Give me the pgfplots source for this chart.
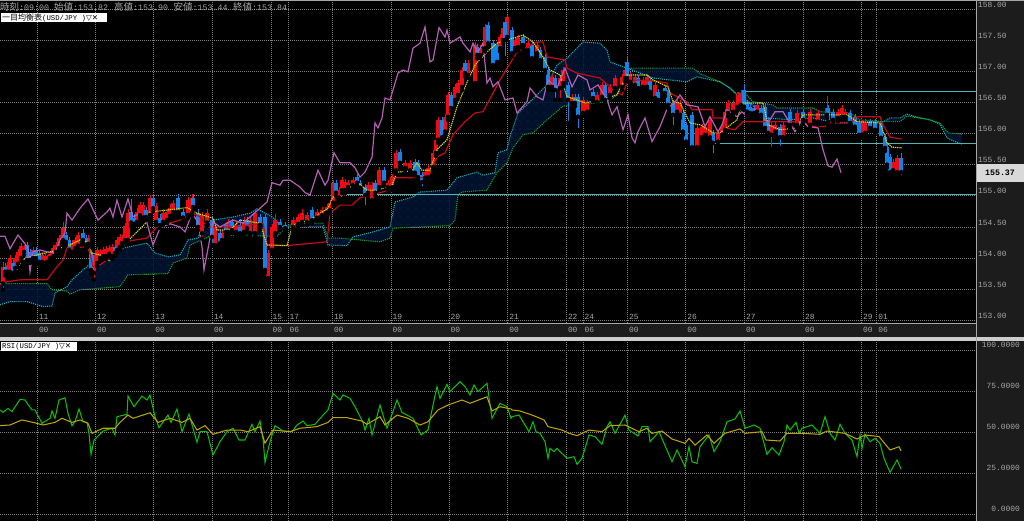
\documentclass[border=0pt]{standalone}
\usepackage{fontspec}
\usepackage{pgfplots}
\usepackage{pgfplotstable}
\pgfplotsset{compat=1.18}
\usetikzlibrary{patterns.meta}
\setmainfont{Liberation Mono}
\newfontfamily\jp{Noto Sans CJK JP}
\newfontfamily\sym{DejaVu Sans}

\definecolor{tick}{RGB}{165,165,165}
\definecolor{panel}{RGB}{28,28,28}
\definecolor{cloud}{RGB}{2,20,52}
\definecolor{dots}{RGB}{30,120,140}
\definecolor{spana}{RGB}{30,170,180}
\definecolor{spanb}{RGB}{20,160,40}
\definecolor{kijun}{RGB}{200,10,20}
\definecolor{tenkan}{RGB}{215,215,20}
\definecolor{chikou}{RGB}{180,95,180}
\definecolor{level}{RGB}{80,180,180}
\definecolor{upc}{RGB}{240,10,20}
\definecolor{dnc}{RGB}{20,130,235}
\definecolor{rsi}{RGB}{10,190,10}
\definecolor{rsima}{RGB}{185,165,10}

% candles: x, body bottom, body top, wick low, wick high
\pgfplotstableread{
x bot top lo hi
3 153.59 153.86 153.49 153.94
7 153.78 153.89 153.72 153.93
10 153.78 154.00 153.73 154.05
15 153.84 154.00 153.78 154.05
18 153.91 154.10 153.85 154.15
21 154.00 154.20 153.95 154.24
24 154.10 154.16 154.05 154.21
33 154.00 154.13 153.95 154.18
42 153.94 154.05 153.89 154.10
45 153.92 154.03 153.87 154.08
47 153.94 154.00 153.89 154.05
50 154.00 154.07 153.95 154.11
53 154.03 154.16 153.98 154.21
56 154.10 154.21 154.05 154.26
59 154.16 154.32 154.11 154.37
62 154.26 154.37 154.21 154.42
63 154.29 154.48 154.24 154.58
72 154.10 154.24 154.05 154.29
75 154.16 154.29 154.11 154.34
78 154.20 154.37 154.15 154.42
88 154.23 154.32 154.18 154.37
94 153.76 154.00 153.65 154.05
97 153.92 154.13 153.87 154.18
100 154.00 154.10 153.95 154.15
103 154.03 154.13 153.98 154.18
106 154.03 154.15 153.98 154.20
109 154.07 154.16 154.02 154.21
112 154.03 154.18 153.98 154.23
117 154.13 154.29 154.08 154.34
120 154.18 154.34 154.13 154.39
122 154.24 154.32 154.19 154.37
125 154.29 154.52 154.24 154.57
128 154.29 154.73 154.24 154.78
137 154.58 154.74 154.53 154.80
140 154.69 154.85 154.64 154.90
143 154.65 154.85 154.60 154.90
150 154.69 154.96 154.64 155.02
156 154.58 154.84 154.53 154.89
163 154.58 154.73 154.53 154.78
167 154.61 154.74 154.56 154.79
170 154.68 154.81 154.63 154.86
173 154.74 154.89 154.69 154.94
188 154.69 154.93 154.64 154.98
192 154.72 154.96 154.67 155.03
202 154.40 154.69 154.31 154.74
207 154.57 154.73 154.52 154.78
215 154.21 154.50 154.16 154.55
222 154.29 154.40 154.24 154.45
228 154.42 154.58 154.37 154.63
236 154.42 154.52 154.37 154.60
244 154.42 154.58 154.37 154.66
250 154.40 154.61 154.35 154.66
255 154.40 154.73 154.35 154.78
268 153.68 154.08 153.62 154.13
272 154.13 154.50 154.08 154.55
275 154.40 154.61 154.35 154.70
293 154.50 154.61 154.45 154.66
298 154.55 154.66 154.50 154.71
302 154.58 154.73 154.53 154.78
307 154.58 154.69 154.53 154.74
317 154.65 154.74 154.60 154.79
322 154.69 154.77 154.64 154.82
327 154.73 154.82 154.68 154.87
330 154.77 154.89 154.72 154.94
333 154.89 155.21 154.84 155.26
339 154.97 155.09 154.92 155.14
342 155.09 155.25 155.04 155.30
345 155.09 155.22 155.04 155.27
348 155.14 155.21 155.09 155.26
353 155.17 155.25 155.12 155.30
368 155.05 155.17 155.00 155.22
372 154.93 155.17 154.88 155.22
379 155.14 155.41 155.09 155.46
388 155.14 155.21 155.09 155.26
392 155.14 155.30 155.09 155.35
396 155.41 155.69 155.36 155.74
405 155.45 155.53 155.40 155.58
410 155.41 155.53 155.36 155.58
425 155.29 155.38 155.24 155.43
428 155.30 155.45 155.25 155.50
433 155.46 155.69 155.41 155.74
436 155.69 155.90 155.64 155.95
438 155.90 156.22 155.85 156.27
445 156.03 156.27 155.98 156.32
448 156.27 156.62 156.22 156.67
455 156.54 156.75 156.49 156.80
458 156.62 156.81 156.57 156.86
462 156.75 157.02 156.70 157.07
468 156.94 157.13 156.89 157.18
475 156.81 157.42 156.76 157.47
480 157.26 157.37 157.21 157.42
485 157.37 157.71 157.32 157.76
500 157.37 157.55 157.32 157.60
503 157.50 157.70 157.45 157.75
507 157.55 157.87 157.50 157.90
515 157.37 157.50 157.32 157.55
518 157.39 157.53 157.34 157.58
528 157.34 157.45 157.29 157.50
537 157.29 157.42 157.24 157.47
552 156.75 156.91 156.70 156.96
560 156.73 156.89 156.54 156.94
563 156.81 157.02 156.76 157.07
572 156.49 156.59 156.44 156.64
583 156.33 156.54 156.28 156.59
587 156.35 156.49 156.30 156.54
597 156.51 156.62 156.46 156.67
602 156.59 156.78 156.54 156.83
610 156.62 156.75 156.57 156.80
615 156.73 156.89 156.68 156.94
622 156.75 156.91 156.70 156.96
625 156.89 157.02 156.84 157.07
630 156.83 156.94 156.78 156.99
635 156.78 156.91 156.73 156.96
643 156.75 156.86 156.70 156.91
647 156.75 156.91 156.70 156.96
655 156.57 156.78 156.52 156.83
677 156.35 156.49 156.30 156.54
680 156.30 156.49 156.25 156.54
697 155.78 156.09 155.73 156.14
702 155.94 156.10 155.89 156.15
705 155.98 156.10 155.93 156.15
710 155.94 156.22 155.89 156.27
718 155.87 156.01 155.82 156.06
722 155.98 156.10 155.93 156.15
725 156.06 156.35 156.01 156.40
728 156.33 156.49 156.28 156.54
733 156.35 156.49 156.30 156.54
738 156.43 156.62 156.38 156.67
741 156.46 156.65 156.41 156.70
757 156.35 156.46 156.30 156.51
771 155.98 156.14 155.75 156.19
775 156.03 156.14 155.98 156.19
783 155.94 156.14 155.89 156.19
797 156.14 156.33 156.09 156.38
810 156.14 156.35 156.09 156.40
818 156.19 156.33 156.14 156.38
827 156.30 156.41 156.25 156.60
838 156.25 156.35 156.20 156.40
842 156.27 156.41 156.22 156.46
845 156.27 156.35 156.22 156.40
862 155.98 156.17 155.93 156.22
865 156.01 156.19 155.96 156.24
893 155.41 155.54 155.36 155.59
897 155.38 155.61 155.33 155.66
}\upcandles

\pgfplotstableread{
x bot top lo hi
5 153.78 153.86 153.72 153.92
13 153.76 153.92 153.71 153.97
27 153.97 154.21 153.92 154.26
30 153.97 154.10 153.92 154.15
36 154.00 154.13 153.95 154.18
39 153.94 154.08 153.89 154.13
66 154.26 154.37 154.21 154.42
69 154.13 154.29 154.08 154.34
83 154.29 154.40 154.24 154.47
86 154.21 154.32 154.16 154.37
91 153.81 154.08 153.76 154.13
92 153.78 154.05 153.73 154.10
115 154.08 154.18 154.03 154.23
131 154.57 154.74 154.52 154.95
134 154.55 154.65 154.50 154.70
146 154.66 154.77 154.61 154.82
153 154.80 154.96 154.75 155.03
160 154.53 154.65 154.48 154.70
178 154.74 154.96 154.69 155.03
183 154.65 154.74 154.60 154.79
193 154.82 154.96 154.77 155.03
198 154.50 154.73 154.45 154.78
212 154.34 154.61 154.21 154.66
220 154.24 154.40 154.19 154.45
226 154.42 154.53 154.37 154.58
232 154.45 154.58 154.40 154.63
240 154.40 154.53 154.35 154.62
247 154.48 154.61 154.43 154.66
260 154.53 154.66 154.48 154.71
265 153.81 154.66 153.76 154.71
280 154.50 154.58 154.45 154.63
285 154.48 154.53 154.43 154.58
312 154.61 154.77 154.56 154.82
336 155.05 155.21 155.00 155.26
357 155.21 155.30 155.16 155.35
360 155.13 155.21 155.08 155.26
365 155.01 155.14 154.82 155.19
375 155.05 155.21 155.00 155.26
384 155.21 155.41 155.16 155.46
400 155.53 155.70 155.48 155.75
415 155.37 155.54 155.32 155.59
418 155.30 155.53 155.25 155.58
422 155.22 155.33 155.12 155.38
442 155.94 156.22 155.89 156.27
451 156.41 156.62 156.36 156.67
465 156.97 157.13 156.92 157.18
477 157.26 157.39 157.21 157.44
488 157.45 157.74 157.40 157.79
493 157.10 157.45 157.05 157.50
497 157.15 157.42 157.10 157.47
505 157.50 157.79 157.21 157.84
512 157.29 157.66 157.24 157.71
523 157.42 157.55 157.37 157.60
532 157.21 157.42 157.16 157.47
540 157.18 157.34 157.13 157.39
545 157.02 157.23 156.97 157.28
548 156.75 157.02 156.70 157.07
555 156.70 156.89 156.54 156.94
568 156.54 156.78 156.17 156.83
575 156.49 156.59 156.44 156.64
578 156.27 156.59 156.05 156.64
593 156.57 156.67 156.52 156.72
605 156.54 156.78 156.49 156.83
627 156.89 157.15 156.84 157.25
638 156.73 156.89 156.68 156.94
650 156.67 156.86 156.62 156.91
658 156.54 156.67 156.49 156.72
665 156.65 156.73 156.60 156.78
668 156.46 156.70 156.41 156.75
673 156.30 156.49 156.10 156.54
683 156.03 156.33 155.98 156.38
686 155.87 156.14 155.82 156.19
692 155.78 156.30 155.73 156.35
713 155.85 156.01 155.65 156.06
744 156.43 156.70 156.38 156.80
747 156.35 156.49 156.30 156.54
750 156.33 156.43 156.28 156.48
754 156.33 156.41 156.28 156.46
761 156.30 156.41 156.25 156.46
765 156.09 156.43 156.04 156.48
768 156.01 156.22 155.96 156.27
780 155.94 156.11 155.77 156.16
790 156.14 156.35 156.09 156.40
803 156.22 156.35 156.17 156.40
828 156.19 156.41 156.14 156.46
833 156.22 156.35 156.17 156.40
850 156.17 156.33 156.12 156.38
855 156.11 156.27 156.06 156.32
859 155.98 156.17 155.93 156.22
870 156.09 156.19 156.04 156.24
875 156.06 156.19 156.01 156.24
881 155.93 156.17 155.88 156.22
885 155.77 155.94 155.72 155.99
887 155.50 155.78 155.45 155.83
890 155.38 155.62 155.33 155.67
901 155.38 155.61 155.30 155.68
}\dncandles

\begin{document}
\begin{tikzpicture}
\fill[black] (0,0) rectangle (1024pt,521pt);
\fill[panel] (977pt,0) rectangle (1024pt,521pt);
\fill[panel] (0,184pt) rectangle (976pt,197pt);

\begin{axis}[
    at={(0pt,198pt)}, anchor=south west,
    scale only axis, width=976pt, height=322pt,
    xmin=0, xmax=976, ymin=152.957, ymax=158.128,
    axis line style={draw=none},
    major tick length=0pt,
    grid=major,
    grid style={color=white!50!black, line width=0.7pt, dash pattern=on 1pt off 1pt},
    ytick={153,153.5,154,154.5,155,155.5,156,156.5,157,157.5,158},
    yticklabel pos=right,
    scaled y ticks=false,
    /pgf/number format/.cd, fixed, precision=2, zerofill, assume math mode=true, 1000 sep={},
    /pgfplots/.cd,
    yticklabel style={anchor=west, inner sep=0pt, xshift=2pt, yshift=4.5pt, text=tick, font=\fontsize{7.9}{9}\selectfont},
    xtick={37.3,95.3,153.7,212.3,271,288,332.3,391,449,507.7,566.3,583,627.3,685.7,744.3,803.3,861.3,876.7},
    xticklabels={{11\\00},{12\\00},{13\\00},{14\\00},{15\\00},{17\\06},{18\\00},{19\\00},{20\\00},{21\\00},{22\\00},{24\\06},{25\\00},{26\\00},{27\\00},{28\\00},{29\\00},{01\\06}},
    xticklabel style={anchor=north west, align=left, inner sep=0pt, xshift=1.5pt, yshift=9pt, text=tick, font=\fontsize{7.9}{13}\selectfont},
]
% kumo area: span A forward, span B back
\addplot[draw=none, fill=cloud, fill opacity=0.85, postaction={pattern={Dots[distance=8pt,radius=0.4pt]}, pattern color=dots}] coordinates {
(0,153.25)(10,153.30)(27,153.30)(43,153.22)(52,153.23)(55,153.44)(67,153.54)(72,153.65)(83,153.81)(97,154.00)(113,154.02)(123,154.16)(147,154.24)(155,154.08)(168,154.02)(180,154.05)(188,154.29)(198,154.32)(203,154.50)(213,154.61)(233,154.66)(250,154.72)(257,154.79)(272,154.66)(283,154.50)(293,154.50)(323,154.50)(328,154.21)(347,154.20)(353,154.34)(373,154.42)(390,154.50)(395,154.90)(413,154.98)(420,155.06)(447,155.09)(457,155.29)(477,155.38)(483,155.33)(495,155.37)(498,155.69)(507,155.74)(510,155.95)(518,156.33)(530,156.51)(547,156.78)(557,157.10)(567,157.21)(583,157.47)(600,157.45)(607,157.34)(610,157.15)(627,157.05)(653,156.89)(670,156.86)(687,156.83)(697,156.91)(703,156.89)(720,156.83)(730,156.73)(737,156.62)(750,156.49)(765,156.25)(790,156.22)(813,156.25)(830,156.19)(850,156.17)(870,156.19)(883,156.19)(890,156.25)(900,156.25)(907,156.31)(920,156.25)(930,156.22)(940,156.15)(947,155.93)(955,155.87)(962,155.83)
(962,155.99)(948,156.01)(940,156.17)(927,156.23)(907,156.28)(900,156.19)(883,156.19)(860,156.22)(850,156.33)(820,156.35)(813,156.41)(777,156.41)(773,156.46)(753,156.51)(745,156.65)(735,156.65)(730,156.73)(720,156.83)(700,156.96)(693,157.05)(680,157.05)(630,157.05)(617,156.62)(607,156.51)(563,156.44)(553,156.30)(547,156.22)(533,156.01)(523,155.98)(513,155.77)(507,155.53)(497,155.37)(487,155.09)(462,155.06)(458,155.01)(455,154.61)(450,154.52)(393,154.48)(390,154.32)(380,154.26)(340,154.32)(328,154.32)(323,154.56)(293,154.56)(287,154.50)(277,154.35)(213,154.37)(190,154.21)(187,154.00)(173,153.92)(168,153.75)(128,153.73)(120,153.54)(80,153.49)(70,153.42)(67,153.47)(52,153.49)(47,153.59)(0,153.59)
};
\addplot[spanb, line width=1.1pt, densely dotted] coordinates {
(0,153.59)(47,153.59)(52,153.49)(67,153.47)(70,153.42)(80,153.49)(120,153.54)(128,153.73)(168,153.75)(173,153.92)(187,154.00)(190,154.21)(213,154.37)(277,154.35)(287,154.50)(293,154.56)(323,154.56)(328,154.32)(340,154.32)(380,154.26)(390,154.32)(393,154.48)(450,154.52)(455,154.61)(458,155.01)(462,155.06)(487,155.09)(497,155.37)(507,155.53)(513,155.77)(523,155.98)(533,156.01)(547,156.22)(553,156.30)(563,156.44)(607,156.51)(617,156.62)(630,157.05)(680,157.05)(693,157.05)(700,156.96)(720,156.83)(730,156.73)(735,156.65)(745,156.65)(753,156.51)(773,156.46)(777,156.41)(813,156.41)(820,156.35)(850,156.33)(860,156.22)(883,156.19)(900,156.19)(907,156.28)(927,156.23)(940,156.17)(948,156.01)(962,155.99)
};
\addplot[spana, line width=1.1pt, densely dotted] coordinates {
(0,153.25)(10,153.30)(27,153.30)(43,153.22)(52,153.23)(55,153.44)(67,153.54)(72,153.65)(83,153.81)(97,154.00)(113,154.02)(123,154.16)(147,154.24)(155,154.08)(168,154.02)(180,154.05)(188,154.29)(198,154.32)(203,154.50)(213,154.61)(233,154.66)(250,154.72)(257,154.79)(272,154.66)(283,154.50)(293,154.50)(323,154.50)(328,154.21)(347,154.20)(353,154.34)(373,154.42)(390,154.50)(395,154.90)(413,154.98)(420,155.06)(447,155.09)(457,155.29)(477,155.38)(483,155.33)(495,155.37)(498,155.69)(507,155.74)(510,155.95)(518,156.33)(530,156.51)(547,156.78)(557,157.10)(567,157.21)(583,157.47)(600,157.45)(607,157.34)(610,157.15)(627,157.05)(653,156.89)(670,156.86)(687,156.83)(697,156.91)(703,156.89)(720,156.83)(730,156.73)(737,156.62)(750,156.49)(765,156.25)(790,156.22)(813,156.25)(830,156.19)(850,156.17)(870,156.19)(883,156.19)(890,156.25)(900,156.25)(907,156.31)(920,156.25)(930,156.22)(940,156.15)(947,155.93)(955,155.87)(962,155.83)
};

% horizontal levels
\addplot[level, line width=1.4pt] coordinates {(338,155.02)(976,155.02)};
\addplot[level, line width=1.4pt] coordinates {(713,155.84)(976,155.84)};
\addplot[level, line width=1.4pt] coordinates {(742,156.67)(976,156.67)};

% candles
\addplot[only marks, mark=none, error bars/.cd, y dir=plus, y explicit, error mark=none, error bar style={line width=1pt, color=upc}]
    table[x=x, y=lo, y error plus expr=\thisrow{hi}-\thisrow{lo}] {\upcandles};
\addplot[only marks, mark=none, error bars/.cd, y dir=plus, y explicit, error mark=none, error bar style={line width=1pt, color=dnc}]
    table[x=x, y=lo, y error plus expr=\thisrow{hi}-\thisrow{lo}] {\dncandles};
\addplot[only marks, mark=none, error bars/.cd, y dir=plus, y explicit, error mark=none, error bar style={line width=3.3pt, color=upc}]
    table[x=x, y=bot, y error plus expr=\thisrow{top}-\thisrow{bot}] {\upcandles};
\addplot[only marks, mark=none, error bars/.cd, y dir=plus, y explicit, error mark=none, error bar style={line width=3.3pt, color=dnc}]
    table[x=x, y=bot, y error plus expr=\thisrow{top}-\thisrow{bot}] {\dncandles};

% kijun
\addplot[kijun, line width=1.2pt] coordinates {
(0,153.57)(7,153.62)(20,153.65)(47,153.65)(57,153.86)(63,153.97)(67,154.16)(87,154.18)(90,154.08)(93,153.86)(100,153.89)(110,154.00)(117,154.16)(127,154.27)(147,154.32)(157,154.50)(180,154.61)(193,154.72)(200,154.66)(207,154.50)(233,154.50)(263,154.56)(267,154.21)(287,154.20)(327,154.26)(330,154.72)(340,154.85)(352,154.85)(360,154.97)(390,155.09)(395,155.29)(428,155.29)(437,155.62)(445,155.69)(453,155.98)(465,156.19)(475,156.33)(483,156.35)(500,156.86)(517,157.31)(527,157.39)(537,157.47)(543,157.47)(547,157.23)(565,157.18)(567,157.05)(577,156.97)(600,156.89)(608,156.78)(613,156.70)(622,156.62)(627,156.81)(637,156.86)(657,156.84)(667,156.81)(670,156.65)(687,156.51)(692,156.38)(712,156.38)(713,156.25)(723,156.25)(725,156.09)(735,156.06)(743,156.19)(765,156.19)(803,156.19)(808,156.12)(825,156.11)(829,156.17)(850,156.17)(857,156.27)(880,156.27)(883,156.14)(890,155.94)(902,155.91)
};
% tenkan
\addplot[tenkan, line width=1.1pt, dash pattern=on 1.3pt off 0.8pt] coordinates {
(7,153.70)(10,153.76)(17,153.81)(22,153.97)(30,154.02)(37,154.05)(50,154.10)(60,154.13)(63,154.21)(70,154.21)(80,154.29)(88,154.26)(91,154.08)(100,154.05)(110,153.95)(117,154.08)(127,154.26)(137,154.42)(147,154.58)(150,154.74)(167,154.77)(187,154.81)(197,154.72)(213,154.64)(217,154.45)(230,154.45)(240,154.61)(260,154.56)(267,154.21)(287,154.20)(292,154.50)(297,154.56)(310,154.61)(328,154.80)(333,154.98)(340,154.98)(350,155.14)(357,155.22)(363,155.14)(367,155.09)(377,155.09)(392,155.17)(397,155.38)(412,155.40)(417,155.53)(422,155.41)(430,155.41)(437,155.74)(447,155.90)(457,156.43)(468,156.86)(475,157.10)(487,157.31)(497,157.45)(523,157.58)(533,157.47)(543,157.23)(550,157.02)(560,156.94)(567,156.59)(577,156.54)(585,156.49)(600,156.54)(617,156.62)(627,156.94)(647,156.94)(653,156.86)(668,156.75)(673,156.51)(680,156.49)(690,156.17)(700,156.14)(713,156.01)(720,156.01)(737,156.22)(742,156.49)(763,156.49)(768,156.14)(780,156.06)(797,156.09)(803,156.30)(847,156.30)(857,156.19)(880,156.17)(887,155.85)(892,155.78)(902,155.77)
};
% chikou
\addplot[chikou, line width=1.2pt] coordinates {
(0,154.35)(5,154.35)(10,154.15)(18,154.37)(25,154.23)(28,154.16)(30,153.78)(33,154.10)(40,154.13)(47,154.10)(55,154.08)(60,154.29)(65,154.40)(67,154.72)(72,154.61)(80,154.80)(88,154.95)(98,154.61)(107,154.74)(110,154.80)(113,154.66)(117,154.93)(122,154.66)(128,154.95)(133,154.66)(140,154.72)(147,154.56)(153,154.21)(160,154.48)(170,154.55)(180,154.50)(185,154.42)(192,154.72)(198,154.58)(202,154.18)(204,153.81)(213,154.58)(220,154.50)(233,154.61)(243,154.56)(260,154.80)(267,154.90)(272,155.21)(280,155.17)(283,155.25)(290,155.25)(300,155.14)(305,155.05)(310,155.01)(318,155.41)(325,155.17)(328,155.25)(334,155.69)(340,155.53)(350,155.53)(355,155.45)(360,155.30)(365,155.38)(372,155.62)(375,156.17)(378,156.09)(382,156.25)(385,156.57)(390,156.54)(398,156.97)(403,157.02)(408,156.99)(413,157.37)(420,157.45)(425,157.71)(430,157.15)(433,157.18)(439,157.70)(445,157.55)(447,157.66)(450,157.45)(460,157.55)(463,157.45)(470,157.31)(473,157.45)(478,157.31)(483,157.45)(487,156.81)(490,156.89)(493,156.75)(498,156.83)(505,156.54)(513,156.57)(517,156.33)(527,156.51)(530,156.73)(537,156.59)(543,156.54)(548,156.86)(557,156.73)(565,157.05)(572,156.75)(578,156.94)(587,156.86)(590,156.70)(598,156.78)(607,156.54)(612,156.30)(617,156.43)(623,156.06)(628,156.30)(632,155.93)(635,155.85)(638,156.03)(645,156.25)(652,155.87)(660,156.11)(668,156.43)(673,156.46)(680,156.62)(687,156.46)(698,156.43)(705,156.11)(710,156.27)(718,156.03)(722,156.14)(727,156.38)(737,156.27)(742,156.35)(747,156.27)(755,156.38)(768,156.17)(775,156.35)(783,156.35)(795,156.03)(802,156.22)(808,156.11)(818,156.09)(823,155.74)(828,155.48)(832,155.46)(837,155.59)(841,155.37)
};
\end{axis}

\begin{axis}[
    at={(0pt,0pt)}, anchor=south west,
    scale only axis, width=976pt, height=179pt,
    xmin=0, xmax=976, ymin=-4.29, ymax=105.33,
    axis line style={draw=none},
    major tick length=0pt,
    grid=major,
    grid style={color=white!50!black, line width=0.7pt, dash pattern=on 1pt off 1pt},
    ytick={0,25,50,75,100},
    yticklabel pos=right,
    /pgf/number format/.cd, fixed, precision=4, zerofill, assume math mode=true, 1000 sep={},
    /pgfplots/.cd,
    yticklabel style={anchor=east, inner sep=0pt, xshift=44pt, yshift=5.5pt, text=tick, font=\fontsize{7.9}{9}\selectfont},
    xtick={37.3,95.3,153.7,212.3,271,288,332.3,391,449,507.7,566.3,583,627.3,685.7,744.3,803.3,861.3,876.7},
    xticklabels={},
]
\addplot[rsi, line width=1.05pt] coordinates {
(0,63.7)(3,62.2)(8,64.7)(12,62.7)(20,70.2)(25,69.8)(32,63.7)(35,63.7)(42,55.5)(50,58.6)(52,63.1)(55,58.6)(59,69.8)(65,71.2)(68,61.6)(72,54.1)(75,56.5)(79,64.3)(83,56.5)(87,56.1)(89,49.4)(91,36.5)(94,45.3)(103,50.8)(112,52.5)(115,48.4)(117,59.6)(127,61.0)(128,72.2)(134,65.7)(142,72.2)(147,69.8)(150,72.9)(155,59.6)(159,52.9)(168,60.6)(171,56.1)(177,64.3)(182,50.4)(189,61.2)(197,43.9)(200,50.4)(207,50.4)(213,36.1)(220,44.3)(227,50.4)(233,52.5)(239,45.3)(245,45.3)(252,54.9)(255,50.4)(260,56.9)(263,46.3)(265,31.6)(270,44.3)(275,54.1)(283,50.8)(292,50.4)(297,54.5)(303,56.9)(307,54.1)(315,54.9)(323,60.6)(328,63.7)(333,73.9)(340,69.8)(343,72.9)(350,70.8)(355,65.7)(363,56.1)(365,51.4)(369,58.6)(372,48.4)(380,66.7)(387,52.5)(397,69.8)(402,62.2)(413,58.6)(421,48.4)(428,51.4)(433,66.7)(437,78.0)(440,70.8)(447,79.4)(450,74.9)(460,81.0)(465,78.0)(470,72.9)(474,79.0)(478,74.9)(487,80.0)(492,58.6)(500,67.8)(507,65.7)(511,58.6)
(512,59.6)(519,60.6)(524,55.5)(529,50.4)(533,56.5)(536,50.4)(540,49.4)(545,44.3)(548,34.1)(550,40.2)(554,38.2)(557,40.2)(560,38.2)(567,34.1)(574,35.1)(577,30.4)(582,34.1)(585,40.2)(589,48.4)(595,47.4)(602,42.7)(607,53.5)(610,56.5)(615,49.4)(625,60.6)(629,51.4)(638,47.8)(642,53.5)(648,53.5)(650,44.3)(659,50.4)(672,32.0)(677,39.2)(685,29.0)(689,41.2)(692,32.0)(697,31.0)(700,41.2)(709,48.4)(714,38.2)(720,44.3)(727,56.5)(735,58.2)(740,63.1)(745,52.5)(754,54.5)(760,52.5)(767,36.5)(772,40.6)(779,36.1)(784,44.3)(787,54.5)(790,51.4)(796,56.1)(799,49.4)(802,52.5)(812,54.5)(820,49.4)(825,59.6)(830,49.4)(835,45.3)(840,54.9)(845,49.4)(852,45.3)(857,35.1)(860,48.4)(862,40.2)(865,48.8)(870,44.3)(875,46.3)(880,43.3)(884,34.1)(890,25.5)(897,33.1)(901,27.6)
};
\addplot[rsima, line width=1.05pt] coordinates {
(0,54.1)(10,54.5)(22,57.6)(33,56.1)(43,54.5)(55,56.1)(62,58.6)(72,56.1)(80,57.6)(88,55.5)(92,49.4)(103,52.5)(115,52.5)(120,56.1)(128,60.6)(133,58.6)(150,62.0)(158,56.1)(170,58.6)(182,56.1)(190,58.6)(197,51.4)(205,54.1)(213,48.8)(227,51.4)(240,51.4)(248,50.4)(260,53.5)(265,43.3)(273,51.4)(290,50.4)(300,52.5)(317,53.5)(328,56.1)(333,59.0)(347,59.0)(362,56.9)(367,54.9)(380,59.6)(385,54.5)(397,60.6)(408,58.6)(420,54.5)(428,56.5)(438,63.7)(448,66.7)(462,69.8)(470,67.8)(487,71.8)(492,63.1)(500,65.7)(511,64.3)
(512,63.7)(520,63.1)(532,60.6)(544,57.6)(548,53.5)(562,51.4)(569,49.4)(577,48.0)(589,51.4)(602,50.4)(610,54.1)(625,54.5)(639,50.4)(647,52.5)(652,49.4)(662,50.8)(672,45.9)(685,43.3)(689,46.3)(695,42.2)(707,48.4)(714,43.3)(725,49.4)(740,52.1)(745,49.4)(762,50.4)(766,45.3)(780,44.7)(787,49.4)(802,49.4)(820,48.8)(827,50.8)(845,49.4)(857,45.9)(865,48.4)(879,47.4)(890,39.2)(899,41.2)(901,38.6)
};
\end{axis}

% frame pieces
\fill[white!80!black] (0,180pt) rectangle (1024pt,183.5pt);
\fill[white!65!black] (0,519.8pt) rectangle (1024pt,521pt);
\fill[white!65!black] (0,197pt) rectangle (976pt,198pt);
\fill[white!65!black] (976pt,0) rectangle (977pt,521pt);

% header
\node[anchor=west, inner sep=0pt, text=tick] at (0pt,514pt) {\fontsize{9.5}{10}\selectfont{\jp 時刻}\fontsize{8.3}{10}\selectfont:09:00};
\node[anchor=west, inner sep=0pt, text=tick] at (54pt,514pt) {\fontsize{9.5}{10}\selectfont{\jp 始値}\fontsize{8.3}{10}\selectfont:153.82};
\node[anchor=west, inner sep=0pt, text=tick] at (114pt,514pt) {\fontsize{9.5}{10}\selectfont{\jp 高値}\fontsize{8.3}{10}\selectfont:153.90};
\node[anchor=west, inner sep=0pt, text=tick] at (173.5pt,514pt) {\fontsize{9.5}{10}\selectfont{\jp 安値}\fontsize{8.3}{10}\selectfont:153.44};
\node[anchor=west, inner sep=0pt, text=tick] at (233pt,514pt) {\fontsize{9.5}{10}\selectfont{\jp 終値}\fontsize{8.3}{10}\selectfont:153.84};

% indicator tags
\fill[white] (1pt,499pt) rectangle (107pt,508pt);
\node[anchor=west, inner sep=0pt, text=black] at (2pt,503.5pt) {\fontsize{8}{9}\selectfont{\jp 一目均衡表}\fontsize{7.3}{9}\selectfont(USD/JPY )\fontsize{7.5}{9}\selectfont{\sym ▽✕}};
\fill[white] (1pt,170pt) rectangle (77pt,179pt);
\node[anchor=west, inner sep=0pt, text=black] at (2pt,174.5pt) {\fontsize{7.3}{9}\selectfont RSI(USD/JPY )\fontsize{7.5}{9}\selectfont{\sym ▽✕}};

% current price tag
\fill[white!85!black] (977pt,339pt) rectangle (1024pt,357pt);
\node[inner sep=0pt, text=black] at (1000pt,348pt) {\fontsize{8.3}{10}\selectfont\bfseries 155.37};

\pgfresetboundingbox
\path[use as bounding box] (0,0) rectangle (1024pt,521pt);
\end{tikzpicture}
\end{document}
